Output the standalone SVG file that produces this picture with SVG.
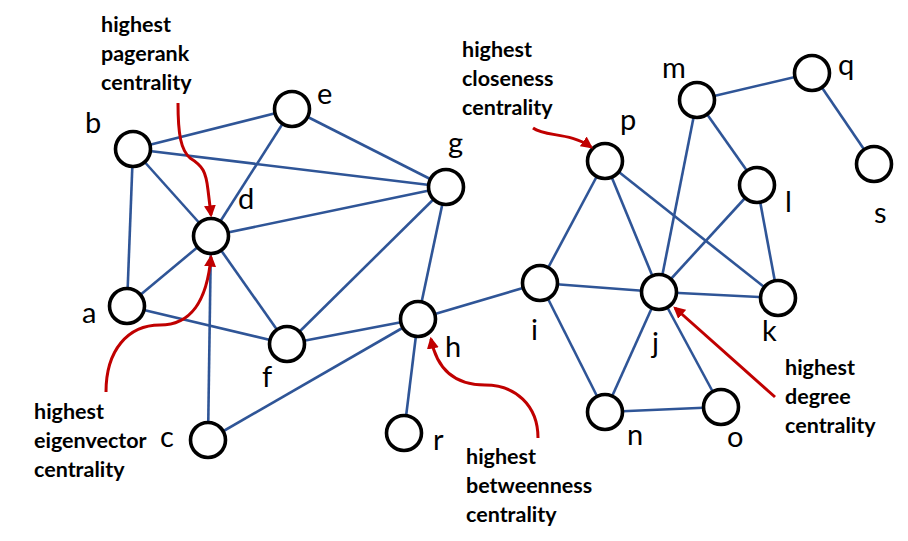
<svg xmlns="http://www.w3.org/2000/svg" width="908" height="541" viewBox="0 0 908 541">
<style>
.edge{stroke:#2f5597;stroke-width:2.6;fill:none}
.node circle{fill:#fff;stroke:#000;stroke-width:3.6}
.lbl{font-family:Lato,"Liberation Sans",sans-serif;font-size:29px;fill:#000}
.ann{font-family:Lato,"Liberation Sans",sans-serif;font-size:21.5px;font-weight:bold;fill:#000}
.arr{stroke:#c00000;stroke-width:3;fill:none;marker-end:url(#ah)}
</style>
<defs>
<marker id="ah" viewBox="0 0 10 10" refX="8" refY="5" markerWidth="4" markerHeight="4" orient="auto" markerUnits="strokeWidth">
<path d="M0,0 L10,5 L0,10 z" fill="#c00000"/>
</marker>
</defs>
<rect width="908" height="541" fill="#fff"/>
<g id="connectors">
<line class="edge" x1="133" y1="149" x2="292" y2="109"/>
<line class="edge" x1="133" y1="149" x2="446" y2="187"/>
<line class="edge" x1="133" y1="149" x2="211" y2="236"/>
<line class="edge" x1="133" y1="149" x2="127" y2="306"/>
<line class="edge" x1="292" y1="109" x2="211" y2="236"/>
<line class="edge" x1="292" y1="109" x2="446" y2="187"/>
<line class="edge" x1="211" y1="236" x2="446" y2="187"/>
<line class="edge" x1="211" y1="236" x2="127" y2="306"/>
<line class="edge" x1="211" y1="236" x2="287" y2="344"/>
<line class="edge" x1="211" y1="236" x2="208" y2="440"/>
<line class="edge" x1="127" y1="306" x2="287" y2="344"/>
<line class="edge" x1="287" y1="344" x2="446" y2="187"/>
<line class="edge" x1="287" y1="344" x2="418" y2="319"/>
<line class="edge" x1="446" y1="187" x2="418" y2="319"/>
<line class="edge" x1="418" y1="319" x2="208" y2="440"/>
<line class="edge" x1="418" y1="319" x2="404" y2="433"/>
<line class="edge" x1="418" y1="319" x2="540" y2="283"/>
<line class="edge" x1="540" y1="283" x2="605" y2="161"/>
<line class="edge" x1="540" y1="283" x2="659" y2="292"/>
<line class="edge" x1="540" y1="283" x2="605" y2="412"/>
<line class="edge" x1="605" y1="161" x2="659" y2="292"/>
<line class="edge" x1="605" y1="161" x2="778" y2="298"/>
<line class="edge" x1="697" y1="100" x2="812" y2="73"/>
<line class="edge" x1="812" y1="73" x2="874" y2="164"/>
<line class="edge" x1="697" y1="100" x2="757" y2="185"/>
<line class="edge" x1="697" y1="100" x2="659" y2="292"/>
<line class="edge" x1="757" y1="185" x2="659" y2="292"/>
<line class="edge" x1="757" y1="185" x2="778" y2="298"/>
<line class="edge" x1="659" y1="292" x2="778" y2="298"/>
<line class="edge" x1="659" y1="292" x2="605" y2="412"/>
<line class="edge" x1="659" y1="292" x2="721" y2="407"/>
<line class="edge" x1="605" y1="412" x2="721" y2="407"/>
</g>
<g id="node-a" class="node"><circle cx="127" cy="306" r="17.5"/><text class="lbl" x="82" y="323">a</text></g>
<g id="node-b" class="node"><circle cx="133" cy="149" r="17.5"/><text class="lbl" x="85" y="133">b</text></g>
<g id="node-c" class="node"><circle cx="208" cy="440" r="17.5"/><text class="lbl" x="160" y="447">c</text></g>
<g id="node-d" class="node"><circle cx="211" cy="236" r="17.5"/><text class="lbl" x="238" y="209">d</text></g>
<g id="node-e" class="node"><circle cx="292" cy="109" r="17.5"/><text class="lbl" x="317" y="104">e</text></g>
<g id="node-f" class="node"><circle cx="287" cy="344" r="17.5"/><text class="lbl" x="262" y="387">f</text></g>
<g id="node-g" class="node"><circle cx="446" cy="187" r="17.5"/><text class="lbl" x="448" y="153">g</text></g>
<g id="node-h" class="node"><circle cx="418" cy="319" r="17.5"/><text class="lbl" x="445" y="357">h</text></g>
<g id="node-i" class="node"><circle cx="540" cy="283" r="17.5"/><text class="lbl" x="531" y="340">i</text></g>
<g id="node-j" class="node"><circle cx="659" cy="292" r="17.5"/><text class="lbl" x="652" y="353">j</text></g>
<g id="node-k" class="node"><circle cx="778" cy="298" r="17.5"/><text class="lbl" x="762" y="341">k</text></g>
<g id="node-l" class="node"><circle cx="757" cy="185" r="17.5"/><text class="lbl" x="785" y="212">l</text></g>
<g id="node-m" class="node"><circle cx="697" cy="100" r="17.5"/><text class="lbl" x="662" y="78">m</text></g>
<g id="node-n" class="node"><circle cx="605" cy="412" r="17.5"/><text class="lbl" x="627" y="445">n</text></g>
<g id="node-o" class="node"><circle cx="721" cy="407" r="17.5"/><text class="lbl" x="727" y="447">o</text></g>
<g id="node-p" class="node"><circle cx="605" cy="161" r="17.5"/><text class="lbl" x="620" y="130">p</text></g>
<g id="node-q" class="node"><circle cx="812" cy="73" r="17.5"/><text class="lbl" x="838" y="75">q</text></g>
<g id="node-r" class="node"><circle cx="404" cy="433" r="17.5"/><text class="lbl" x="433" y="450">r</text></g>
<g id="node-s" class="node"><circle cx="874" cy="164" r="17.5"/><text class="lbl" x="874" y="223">s</text></g>
<g id="annotations">
<path class="arr" d="M178,103 C178,135 181,150 190,158 C203,166 206,172 208,190 L211,215"/>
<text class="ann" x="101" y="32">highest</text>
<text class="ann" x="101" y="61">pagerank</text>
<text class="ann" x="101" y="90">centrality</text>
<path class="arr" d="M106,392 C106,350 128,325 160,325 C192,325 207,300 211,257"/>
<text class="ann" x="34" y="419">highest</text>
<text class="ann" x="34" y="448">eigenvector</text>
<text class="ann" x="34" y="477">centrality</text>
<path class="arr" d="M538,438 C538,405 515,385 485,385 C455,385 437,370 431,339"/>
<text class="ann" x="466" y="464">highest</text>
<text class="ann" x="466" y="493">betweenness</text>
<text class="ann" x="466" y="522">centrality</text>
<path class="arr" d="M533,128 C545,137 570,132 591,147"/>
<text class="ann" x="462" y="57">highest</text>
<text class="ann" x="462" y="86">closeness</text>
<text class="ann" x="462" y="115">centrality</text>
<path class="arr" d="M775,397 L675,308"/>
<text class="ann" x="785" y="375">highest</text>
<text class="ann" x="785" y="404">degree</text>
<text class="ann" x="785" y="433">centrality</text>
</g>
</svg>
